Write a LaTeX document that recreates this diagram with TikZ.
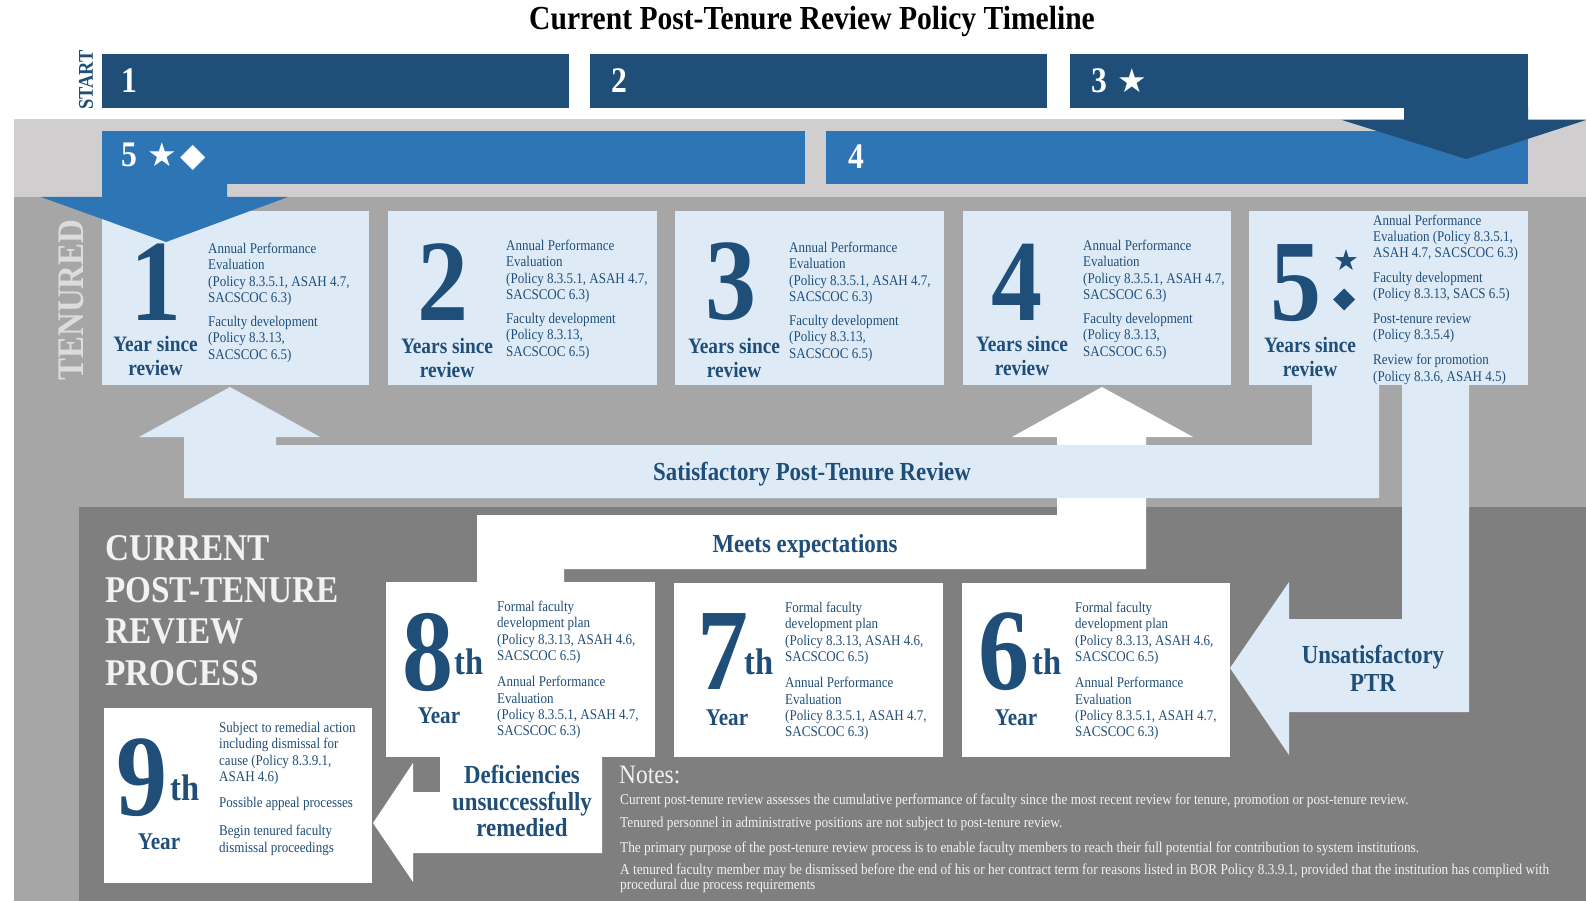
\documentclass[tikz,border=0pt]{standalone}
\usepackage{fontspec}
\setmainfont{Liberation Serif}[FakeStretch=0.88]
\newfontfamily\symf{DejaVu Sans}
\definecolor{navy}{HTML}{1F4E79}
\definecolor{mblue}{HTML}{2E75B6}
\definecolor{lblue}{HTML}{DEEBF7}
\definecolor{lgray}{HTML}{D0CECE}
\definecolor{mgray}{HTML}{A6A6A6}
\definecolor{dgray}{HTML}{7F7F7F}
\definecolor{offw}{HTML}{F2F2F2}
\definecolor{tengray}{HTML}{DCDCDC}
\newcommand\fsz[2]{\fontsize{#1}{#2}\selectfont}
\newcommand\blk[6]{\node[#6,minimum width={(#4-#2)*1pt},minimum height={(#5-#3)*1pt}] (#1) at ({(#2+#4)/2},{(#3+#5)/2}) {};}
\tikzset{
 blkbase/.style={inner sep=0pt,outer sep=0pt,draw=none,rectangle},
 txtsmall/.style={font=\fsz{14.8}{16.3},text=navy,align=left,anchor=north west,inner sep=0pt},
 bigdig/.style={font=\fsz{116}{116}\bfseries,text=navy,inner sep=0pt},
 sincelbl/.style={font=\fsz{22}{24}\bfseries,text=navy,align=center,inner sep=0pt},
 yearlbl/.style={font=\fsz{24}{24}\bfseries,text=navy,inner sep=0pt},
 thlbl/.style={font=\fsz{37}{37}\bfseries,text=navy,inner sep=0pt},
 flowlbl/.style={font=\fsz{26}{27}\bfseries,text=navy,align=center,inner sep=0pt},
 barlbl/.style={font=\fsz{36}{36}\bfseries,text=white,inner sep=0pt,anchor=west},
 boxsym/.style={font=\symf\fsz{29}{29},text=navy,inner sep=0pt},
 headlbl/.style={font=\fsz{37.8}{37.8}\bfseries,text=offw,anchor=west,inner sep=0pt},
 notelbl/.style={font=\fsz{15.1}{15},text=offw,anchor=west,align=left,inner sep=0pt},
}
\begin{document}
\begin{tikzpicture}[x=1pt,y=-1pt]
\useasboundingbox (0,0) rectangle (1586,901);
\fill[white] (0,0) rectangle (1586,901);
% background bands
\blk{bandL}{14}{119}{1586}{197}{blkbase,fill=lgray}
\blk{bandM}{14}{197}{1586}{901}{blkbase,fill=mgray}
\blk{bandD}{79}{507}{1586}{901}{blkbase,fill=dgray}
% top timeline bars
\blk{t1}{102}{54}{569}{108}{blkbase,fill=navy}
\blk{t2}{590}{54}{1047}{108}{blkbase,fill=navy}
\blk{t3}{1070}{54}{1528}{108}{blkbase,fill=navy}
\blk{t5}{102}{131}{805}{184}{blkbase,fill=mblue}
\blk{t4}{826}{131}{1528}{184}{blkbase,fill=mblue}
\fill[navy] (1404,107) -- (1528,107) -- (1528,120) -- (1586,120) -- (1466,159) -- (1342,120) -- (1404,120) -- cycle;
% meets expectations path (white)
\fill[white] (477,583) -- (477,515) -- (1057,515) -- (1057,437) -- (1012,437) -- (1102,387) -- (1193,437) -- (1146,437) -- (1146,569) -- (564,569) -- (564,583) -- cycle;
% year boxes
\blk{y1}{102}{211}{369}{385}{blkbase,fill=lblue}
\blk{y2}{388}{211}{657}{385}{blkbase,fill=lblue}
\blk{y3}{675}{211}{944}{385}{blkbase,fill=lblue}
\blk{y4}{963}{211}{1231}{385}{blkbase,fill=lblue}
\blk{y5}{1249}{211}{1528}{385}{blkbase,fill=lblue}
% blue arrow from bar 5
\fill[mblue] (102,183) -- (227,183) -- (227,197) -- (288,197) -- (166,242) -- (41,197) -- (102,197) -- cycle;
% satisfactory band
\fill[lblue] (184,498) -- (184,437) -- (139,437) -- (230,387) -- (320,437) -- (276,437) -- (276,445) -- (1312,445) -- (1312,384) -- (1379,384) -- (1379,498) -- cycle;
% unsatisfactory arrow
\fill[lblue] (1402,384) -- (1469,384) -- (1469,712) -- (1289,712) -- (1289,755) -- (1230,668) -- (1289,582) -- (1289,619) -- (1402,619) -- cycle;
% bottom boxes
\blk{y8}{386}{582}{655}{757}{blkbase,fill=white}
\blk{y7}{674}{583}{943}{757}{blkbase,fill=white}
\blk{y6}{962}{583}{1230}{757}{blkbase,fill=white}
\blk{y9}{104}{708}{372}{883}{blkbase,fill=white}
% deficiencies arrow
\fill[white] (440,756) -- (602,756) -- (602,853) -- (413,853) -- (413,882) -- (373,823) -- (413,763) -- (413,792) -- (440,792) -- cycle;

% title and side labels
\node[font=\fsz{33.6}{34}\bfseries,text=black,inner sep=0pt] (title) at (812,21) {Current Post-Tenure Review Policy Timeline};
\node[rotate=90,font=\fsz{21}{21}\bfseries,text=navy,inner sep=0pt] (start) at (86,80) {START};
\node[rotate=90,font=\fsz{37.5}{37.5}\bfseries,text=tengray,inner sep=0pt] (tenured) at (71,300) {TENURED};
% bar labels
\node[barlbl] (l1) at (121,81) {1};
\node[barlbl] (l2) at (611,81) {2};
\node[barlbl] (l3) at (1091,81) {3\hspace{10pt}{\symf\fsz{33}{33}★}};
\node[barlbl] (l5) at (121,157) {5\hspace{10pt}{\symf\fsz{33}{33}★\hspace{4pt}◆}};
\node[barlbl] (l4) at (848,157) {4};

% year 1-5 boxes content
\node[bigdig] (d1) at (156,282) {1};
\node[bigdig] (d2) at (443,282) {2};
\node[bigdig] (d3) at (731,282) {3};
\node[bigdig] (d4) at (1017,282) {4};
\node[bigdig] (d5) at (1296,283) {5};
\node[boxsym] (s5) at (1346,260) {★};
\node[boxsym] (q5) at (1345,300) {◆};
\node[sincelbl] (r1) at (155.5,356) {Year since\\review};
\node[sincelbl] (r2) at (447,358) {Years since\\review};
\node[sincelbl] (r3) at (734,358) {Years since\\review};
\node[sincelbl] (r4) at (1022,356) {Years since\\review};
\node[sincelbl] (r5) at (1310,357) {Years since\\review};
\node[txtsmall] (x1) at (208,243) {Annual Performance\\Evaluation\\(Policy 8.3.5.1, ASAH 4.7,\\SACSCOC 6.3)\\[7.7pt]Faculty development\\(Policy 8.3.13,\\SACSCOC 6.5)};
\node[txtsmall] (x2) at (506,240) {Annual Performance\\Evaluation\\(Policy 8.3.5.1, ASAH 4.7,\\SACSCOC 6.3)\\[7.7pt]Faculty development\\(Policy 8.3.13,\\SACSCOC 6.5)};
\node[txtsmall] (x3) at (789,242) {Annual Performance\\Evaluation\\(Policy 8.3.5.1, ASAH 4.7,\\SACSCOC 6.3)\\[7.7pt]Faculty development\\(Policy 8.3.13,\\SACSCOC 6.5)};
\node[txtsmall] (x4) at (1083,240) {Annual Performance\\Evaluation\\(Policy 8.3.5.1, ASAH 4.7,\\SACSCOC 6.3)\\[7.7pt]Faculty development\\(Policy 8.3.13,\\SACSCOC 6.5)};
\node[txtsmall] (x5) at (1373,214.5) {Annual Performance\\Evaluation (Policy 8.3.5.1,\\ASAH 4.7, SACSCOC 6.3)\\[8.5pt]Faculty development\\(Policy 8.3.13, SACS 6.5)\\[8.5pt]Post-tenure review\\(Policy 8.3.5.4)\\[8.5pt]Review for promotion\\(Policy 8.3.6, ASAH 4.5)};

% flow labels
\node[flowlbl] (sat) at (812,474) {Satisfactory Post-Tenure Review};
\node[flowlbl] (meets) at (805,546) {Meets expectations};
\node[flowlbl,font=\fsz{26}{28}\bfseries] (unsat) at (1373,668) {Unsatisfactory\\PTR};
\node[flowlbl,font=\fsz{26}{26.5}\bfseries] (defic) at (522,801) {Deficiencies\\unsuccessfully\\remedied};

% process heading
\node[headlbl] (h1) at (105,548) {CURRENT};
\node[headlbl] (h2) at (105,590) {POST-TENURE};
\node[headlbl] (h3) at (105,631) {REVIEW};
\node[headlbl] (h4) at (105,673) {PROCESS};

% years 6-9 content
\node[bigdig] (d8) at (428,652) {8};
\node[thlbl] (th8) at (469,662) {th};
\node[yearlbl] (ye8) at (439,716) {Year};
\node[txtsmall] (x8) at (497,601) {Formal faculty\\development plan\\(Policy 8.3.13, ASAH 4.6,\\SACSCOC 6.5)\\[10pt]Annual Performance\\Evaluation\\(Policy 8.3.5.1, ASAH 4.7,\\SACSCOC 6.3)};
\node[bigdig] (d7) at (723,652) {7};
\node[thlbl] (th7) at (759,662) {th};
\node[yearlbl] (ye7) at (727,718) {Year};
\node[txtsmall] (x7) at (785,602) {Formal faculty\\development plan\\(Policy 8.3.13, ASAH 4.6,\\SACSCOC 6.5)\\[10pt]Annual Performance\\Evaluation\\(Policy 8.3.5.1, ASAH 4.7,\\SACSCOC 6.3)};
\node[bigdig] (d6) at (1004,652) {6};
\node[thlbl] (th6) at (1047,662) {th};
\node[yearlbl] (ye6) at (1016,718) {Year};
\node[txtsmall] (x6) at (1075,602) {Formal faculty\\development plan\\(Policy 8.3.13, ASAH 4.6,\\SACSCOC 6.5)\\[10pt]Annual Performance\\Evaluation\\(Policy 8.3.5.1, ASAH 4.7,\\SACSCOC 6.3)};
\node[bigdig] (d9) at (142,778) {9};
\node[thlbl] (th9) at (185,788) {th};
\node[yearlbl] (ye9) at (159,842) {Year};
\node[txtsmall] (x9) at (219,722) {Subject to remedial action\\including dismissal for\\cause (Policy 8.3.9.1,\\ASAH 4.6)\\[10pt]Possible appeal processes\\[12pt]Begin tenured faculty\\dismissal proceedings};

% notes
\node[font=\fsz{26.6}{27},text=offw,anchor=west,inner sep=0pt] (notes) at (619,775) {Notes:};
\node[notelbl] (n1) at (620,801) {Current post-tenure review assesses the cumulative performance of faculty since the most recent review for tenure, promotion or post-tenure review.};
\node[notelbl] (n2) at (620,824) {Tenured personnel in administrative positions are not subject to post-tenure review.};
\node[notelbl] (n3) at (620,849) {The primary purpose of the post-tenure review process is to enable faculty members to reach their full potential for contribution to system institutions.};
\node[notelbl] (n4) at (620,878.5) {A tenured faculty member may be dismissed before the end of his or her contract term for reasons listed in BOR Policy 8.3.9.1, provided that the institution has complied with\\procedural due process requirements};
\end{tikzpicture}
\end{document}
